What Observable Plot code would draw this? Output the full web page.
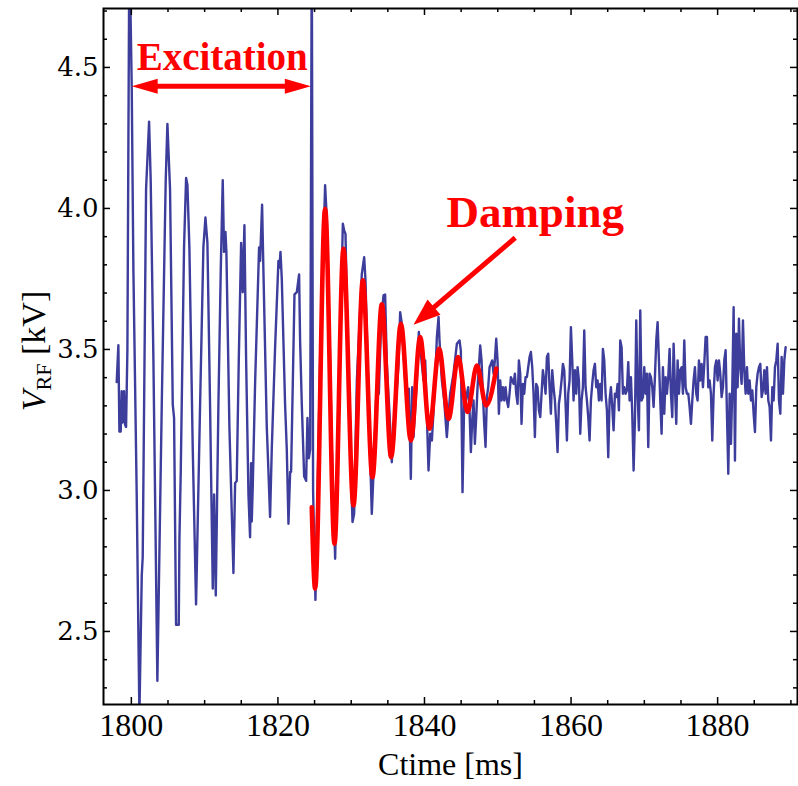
<!DOCTYPE html>
<html><head><meta charset="utf-8">
<script src="https://cdn.jsdelivr.net/npm/d3@7"></script>
<script src="https://cdn.jsdelivr.net/npm/@observablehq/plot@0.6"></script>
<style>html,body{margin:0;padding:0;background:#fff}#chart{width:798px;height:786px}</style>
</head><body><div id="chart"></div>
<script>
// ---- axes ----
const xDomain = [1796.2, 1890.9];
const yDomain = [2.241, 4.709];
const xMajor = [1800, 1820, 1840, 1860, 1880];
const xMinor = [1805, 1810, 1815, 1825, 1830, 1835, 1845, 1850, 1855, 1865, 1870, 1875, 1885, 1890];
const yMajor = [2.5, 3.0, 3.5, 4.0, 4.5];
const yMinor = [2.3, 2.4, 2.6, 2.7, 2.8, 2.9, 3.1, 3.2, 3.3, 3.4, 3.6, 3.7, 3.8, 3.9, 4.1, 4.2, 4.3, 4.4, 4.6, 4.7];
const xTitle = "Ctime [ms]";

// ---- measured V_RF (kV): excitation + damping part, read point by point ----
const blueT = [1798.00,1798.23,1798.37,1798.55,1798.68,1798.82,1799.00,1799.14,1799.28,1799.46,1799.73,1800.05,1800.28,1800.73,1801.10,1801.42,1801.55,1802.01,1802.42,1802.64,1803.01,1803.55,1804.15,1804.69,1804.92,1805.28,1805.65,1805.83,1806.10,1806.47,1806.56,1806.74,1807.19,1807.47,1807.65,1807.92,1808.38,1808.83,1809.38,1809.83,1810.11,1810.38,1810.74,1811.11,1811.29,1811.52,1811.88,1812.20,1812.47,1812.65,1812.84,1812.97,1813.38,1813.93,1814.16,1814.38,1814.66,1814.98,1815.20,1815.43,1815.66,1815.98,1816.20,1816.34,1816.43,1816.57,1816.89,1817.43,1817.57,1817.84,1818.02,1818.48,1818.71,1818.93,1819.16,1819.62,1820.07,1820.21,1820.35,1820.53,1820.98,1821.21,1821.44,1821.67,1821.80,1822.26,1822.58,1822.89,1823.03,1823.26,1823.58,1823.85,1824.03,1824.21,1824.40,1824.62,1824.80,1825.12,1825.76,1826.44,1826.67,1827.04,1827.35,1827.81,1828.13,1828.49,1828.86,1829.04,1829.22,1829.54,1829.86,1830.18,1830.40,1830.77,1831.45,1831.77,1831.95,1832.36,1832.81,1833.04,1833.41,1833.77,1834.09,1834.41,1834.63,1834.86,1835.23,1835.54,1835.77,1836.00,1836.46,1836.68,1836.91,1837.37,1837.68,1837.87,1838.14,1838.32,1838.50,1838.96,1839.23,1839.41,1839.87,1840.10,1840.32,1840.55,1840.78,1841.01,1841.46,1841.69,1841.92,1842.05,1842.37,1842.69,1843.05,1843.28,1843.51,1843.96,1844.42,1844.78,1844.96,1845.19];
const blueV = [3.384,3.515,3.209,3.209,3.352,3.241,3.352,3.233,3.225,3.496,4.95,4.435,3.782,2.986,2.20,2.699,2.763,4.069,4.308,4.100,3.464,2.325,3.304,4.100,4.300,4.069,3.304,3.257,2.524,2.524,2.827,3.066,3.862,4.108,4.084,3.862,3.145,2.596,3.304,3.862,3.968,3.878,3.304,2.652,2.986,2.628,3.304,3.782,4.100,3.846,3.917,3.846,3.225,2.707,3.026,3.034,3.464,3.878,3.703,3.941,3.464,2.986,2.834,3.097,2.890,3.018,3.384,3.862,3.814,4.013,3.782,3.225,3.066,2.906,3.145,3.511,3.814,3.790,3.846,3.750,3.304,3.145,2.882,3.066,3.066,3.695,3.703,3.766,3.528,3.304,3.050,3.034,3.257,3.114,3.145,4.95,3.00,2.612,3.464,4.082,3.963,3.567,3.154,2.758,3.154,3.508,3.946,3.922,3.910,3.508,3.154,2.888,2.917,3.390,3.768,3.827,3.745,3.331,2.917,3.059,3.331,3.343,3.603,3.692,3.695,3.449,3.272,3.100,3.213,3.272,3.449,3.632,3.591,3.390,3.343,3.361,3.041,3.366,3.189,3.390,3.562,3.508,3.390,3.461,3.272,3.071,3.201,3.177,3.390,3.544,3.615,3.532,3.390,3.319,3.189,3.272,3.343,3.414,3.520,3.532,3.496,2.994];

// ---- measured V_RF (kV): noisy tail, evenly sampled ----
const tailStart = 1845.42;
const tailStep = 0.182;
const tailV = [3.319,3.307,3.343,3.366,3.284,3.136,3.248,3.319,3.165,3.260,
3.366,3.437,3.514,3.461,3.343,3.236,3.154,3.331,3.366,3.437,
3.449,3.461,3.414,3.461,3.538,3.461,3.272,3.390,3.319,3.366,
3.319,3.366,3.319,3.296,3.343,3.402,3.390,3.378,3.414,3.343,
3.307,3.461,3.414,3.236,3.378,3.343,3.402,3.402,3.437,3.473,
3.491,3.437,3.343,3.189,3.378,3.366,3.284,3.260,3.343,3.426,
3.390,3.343,3.473,3.485,3.366,3.272,3.426,3.366,3.319,3.236,
3.136,3.307,3.343,3.390,3.449,3.426,3.307,3.177,3.343,3.390,
3.579,3.461,3.319,3.426,3.343,3.437,3.390,3.201,3.319,3.366,
3.567,3.366,3.319,3.260,3.177,3.319,3.378,3.426,3.449,3.366,
3.390,3.319,3.378,3.319,3.502,3.461,3.343,3.284,3.118,3.319,
3.366,3.296,3.213,3.343,3.331,3.378,3.284,
3.532,3.508,3.343,3.366,3.343,3.355,3.455,3.319,3.402,3.272,
3.071,3.248,3.603,3.343,3.213,3.638,3.319,3.331,3.437,3.343,
3.414,3.154,3.414,3.402,3.366,3.296,3.402,3.532,3.597,3.461,
3.319,3.201,3.437,3.272,3.402,3.343,3.402,3.502,3.343,3.260,
3.520,3.366,3.236,3.461,3.343,3.426,3.437,3.343,3.532,3.366,
3.343,3.343,3.296,3.236,3.319,3.390,3.437,3.343,3.319,3.461,
3.390,3.449,3.366,3.449,3.544,3.544,3.366,3.390,3.343,3.177,
3.343,3.437,3.461,3.390,3.461,3.414,3.331,3.366,3.461,3.497,
3.272,3.059,3.343,3.165,3.366,3.650,3.106,3.556,3.366,3.609,
3.437,3.378,3.603,3.426,3.343,3.437,3.343,3.390,3.319,3.355,
3.272,3.207,3.366,3.414,3.437,3.449,3.331,3.355,3.426,3.343,
3.437,3.319,3.296,3.177,3.366,3.319,3.437,3.461,3.520,3.319,
3.272,3.473,3.343,3.461,3.508];

// ---- damped fit (red): start, extrema, end ----
const redT = [1824.62,1825.08,1826.44,1827.72,1828.94,1830.31,1831.59,1832.90,1834.18,1835.45,1836.78,1838.14,1839.41,1840.68,1842.00,1843.28,1844.60,1845.87,1847.15,1848.42,1849.80];
const redV = [2.94,2.652,3.999,2.811,3.857,2.947,3.745,3.047,3.660,3.118,3.591,3.177,3.544,3.219,3.502,3.254,3.473,3.278,3.443,3.301,3.432];

// ---- annotations (data coordinates) ----
const labels = [
  {t: 1812.4, v: 4.534, text: "Excitation", size: 39},
  {t: 1855.1, v: 3.985, text: "Damping", size: 45}
];
const shafts = [
  {t1: 1802.6, v1: 4.433, t2: 1821.9, v2: 4.433},
  {t1: 1852.38, v1: 3.896, t2: 1840.6, v2: 3.634}
];
const excitationHeads = [{t: 1800.05, v: 4.433, a: -90}, {t: 1824.49, v: 4.433, a: 90}];
const dampingHead = [{t: 1838.50, v: 3.588, a: -130.5}];

const blue = blueT.map((t, i) => ({t, v: blueV[i]}))
  .concat(tailV.map((v, i) => ({t: tailStart + i * tailStep, v})));
const red = redT.map((t, i) => ({t, v: redV[i]}));

const headShape = {
  draw(ctx, l, r) { ctx.moveTo(0, -l); ctx.lineTo(r, 0); ctx.lineTo(-r, 0); ctx.closePath(); }
};
const serif = "'Liberation Serif','Times New Roman',serif";

const plot = Plot.plot({
  width: 798, height: 786,
  marginLeft: 103, marginRight: 1, marginTop: 8, marginBottom: 82,
  x: {domain: xDomain},
  y: {domain: yDomain},
  style: {background: "white", color: "black", fontFamily: serif, overflow: "visible"},
  marks: [
    Plot.line(blue, {x: "t", y: "v", stroke: "#3d3d9c", strokeWidth: 2.4, strokeLinejoin: "round", clip: true}),
    Plot.line(red, {x: "t", y: "v", stroke: "#ff0000", strokeWidth: 4.6, curve: "monotone-x"}),
    Plot.frame({stroke: "black", strokeWidth: 2}),
    // inward frame ticks
    Plot.ruleX(xMajor, {x: d => d, y1: yDomain[0], y2: yDomain[0], insetTop: -7, strokeWidth: 1.5}),
    Plot.ruleX(xMinor, {x: d => d, y1: yDomain[0], y2: yDomain[0], insetTop: -4, strokeWidth: 1.5}),
    Plot.ruleX(xMajor, {x: d => d, y1: yDomain[1], y2: yDomain[1], insetBottom: -7, strokeWidth: 1.5}),
    Plot.ruleX(xMinor, {x: d => d, y1: yDomain[1], y2: yDomain[1], insetBottom: -4, strokeWidth: 1.5}),
    Plot.ruleY(yMajor, {y: d => d, x1: xDomain[0], x2: xDomain[0], insetRight: -7, strokeWidth: 1.5}),
    Plot.ruleY(yMinor, {y: d => d, x1: xDomain[0], x2: xDomain[0], insetRight: -4, strokeWidth: 1.5}),
    Plot.ruleY(yMajor, {y: d => d, x1: xDomain[1], x2: xDomain[1], insetLeft: -7, strokeWidth: 1.5}),
    Plot.ruleY(yMinor, {y: d => d, x1: xDomain[1], x2: xDomain[1], insetLeft: -4, strokeWidth: 1.5}),
    // tick labels
    Plot.axisX(xMajor, {anchor: "bottom", tickSize: 0, tickPadding: 9, fontSize: 32, fontFamily: serif, tickFormat: d3.format("d"), label: null}),
    Plot.axisY(yMajor, {anchor: "left", tickSize: 0, tickPadding: 5, fontSize: 26, fontFamily: "'DejaVu Serif',serif", tickFormat: d3.format(".1f"), label: null}),
    Plot.text([xTitle], {frameAnchor: "bottom", dy: 70, fontSize: 32, fontFamily: serif}),
    // annotations
    Plot.link(shafts, {x1: "t1", y1: "v1", x2: "t2", y2: "v2", stroke: "#ff0000", strokeWidth: 5}),
    Plot.vector(excitationHeads, {x: "t", y: "v", rotate: "a", length: 26, r: 7.5, anchor: "end", shape: headShape, fill: "#ff0000", stroke: "none"}),
    Plot.vector(dampingHead, {x: "t", y: "v", rotate: "a", length: 27, r: 10, anchor: "end", shape: headShape, fill: "#ff0000", stroke: "none"}),
    Plot.text(labels, {x: "t", y: "v", text: "text", fontSize: "size", fontWeight: "bold", fill: "#ff0000", fontFamily: serif})
  ]
});

// y-axis title with subscript
const svg = d3.select(plot);
const yt = svg.append("text")
  .attr("transform", "translate(45,351) rotate(-90)")
  .attr("text-anchor", "middle")
  .attr("font-family", serif)
  .attr("font-size", 34)
  .attr("fill", "black");
yt.append("tspan").attr("font-style", "italic").text("V");
yt.append("tspan").attr("font-size", 22).attr("dy", 6).text("RF");
yt.append("tspan").attr("dy", -6).text(" [kV]");

document.getElementById("chart").appendChild(plot);
</script>
</body></html>
